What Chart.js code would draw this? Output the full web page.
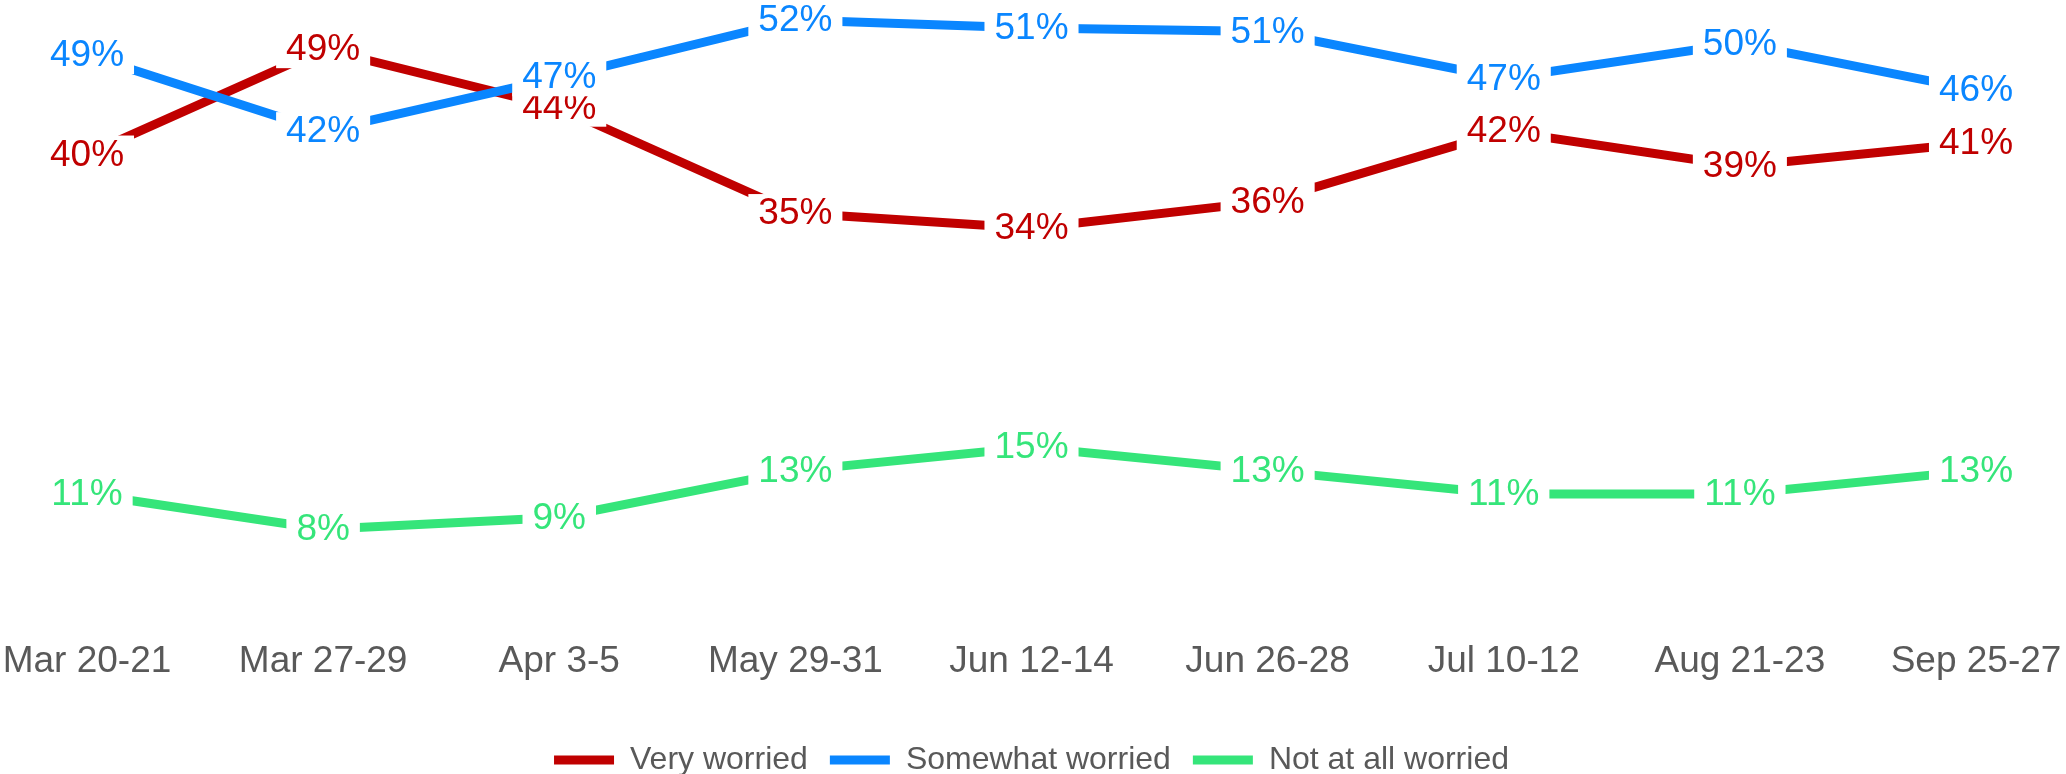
<!DOCTYPE html>
<html>
<head>
<meta charset="utf-8">
<script src="https://cdn.jsdelivr.net/npm/chart.js@4.4.0/dist/chart.umd.min.js"></script>
<style>
  html, body { margin: 0; padding: 0; background: #fff; }
  #wrap { width: 2066px; height: 774px; }
</style>
</head>
<body>
<div id="wrap"><canvas id="worryChart" width="2066" height="774"></canvas></div>
<script>
const categories = ['Mar 20-21', 'Mar 27-29', 'Apr 3-5', 'May 29-31', 'Jun 12-14', 'Jun 26-28', 'Jul 10-12', 'Aug 21-23', 'Sep 25-27'];
// labels show rounded values; line positions read a bit off the whole number
const veryWorried = [40, 49, 44, 35, 33.7, 36, 42, 39, 41];
const somewhatWorried = [48.5, 42, 46.6, 51.5, 50.8, 50.5, 46.5, 49.5, 45.5];
const notWorried = [11, 8, 9, 13, 15, 13, 11, 11, 13];
const seriesNames = ['Very worried', 'Somewhat worried', 'Not at all worried'];
const seriesColors = ['#C00000', '#0A86FF', '#35E57A'];

const FONT = '"Liberation Sans", Arial, sans-serif';

// value labels sit on the point, white box hides the line behind them
const pointLabels = {
    id: 'pointLabels',
    afterDatasetDraw(chart, args) {
        const ds = chart.data.datasets[args.index];
        const ctx = chart.ctx;
        ctx.save();
        ctx.font = '37px ' + FONT;
        ctx.textAlign = 'center';
        ctx.textBaseline = 'middle';
        args.meta.data.forEach((pt, i) => {
            const txt = Math.round(ds.data[i]) + '%';
            const w = ctx.measureText(txt).width + 20;
            ctx.fillStyle = '#fff';
            ctx.fillRect(pt.x - w / 2, pt.y - 19, w, 38);
            ctx.fillStyle = ds.borderColor;
            ctx.fillText(txt, pt.x, pt.y + 1);
        });
        ctx.restore();
    }
};

const makeSet = (i, values, order) => ({
    label: seriesNames[i],
    data: values,
    borderColor: seriesColors[i],
    backgroundColor: seriesColors[i],
    borderWidth: 9,
    borderCapStyle: 'round',
    pointRadius: 0,
    pointHoverRadius: 0,
    tension: 0,
    clip: false,
    order: order
});

new Chart(document.getElementById('worryChart'), {
    type: 'line',
    data: {
        labels: categories,
        datasets: [
            makeSet(0, veryWorried, 3),
            makeSet(1, somewhatWorried, 2),
            makeSet(2, notWorried, 1)
        ]
    },
    options: {
        responsive: false,
        animation: false,
        events: [],
        layout: { padding: { left: 87, right: 90, top: 0, bottom: -12 } },
        scales: {
            x: {
                grid: { display: false, drawTicks: true, tickLength: 17 },
                border: { display: false },
                ticks: { color: '#595959', font: { family: FONT, size: 37 }, padding: 0, maxRotation: 0, autoSkip: false },
                afterFit(scale) { scale.height += 37.8; }
            },
            y: { display: false, min: 0, max: 53.2 }
        },
        plugins: {
            legend: {
                position: 'bottom',
                labels: {
                    usePointStyle: true,
                    pointStyle: 'line',
                    pointStyleWidth: 60,
                    padding: 22,
                    color: '#595959',
                    font: { family: FONT, size: 32 },
                    sort: (a, b) => a.datasetIndex - b.datasetIndex
                }
            },
            tooltip: { enabled: false }
        }
    },
    plugins: [pointLabels]
});
</script>
</body>
</html>
